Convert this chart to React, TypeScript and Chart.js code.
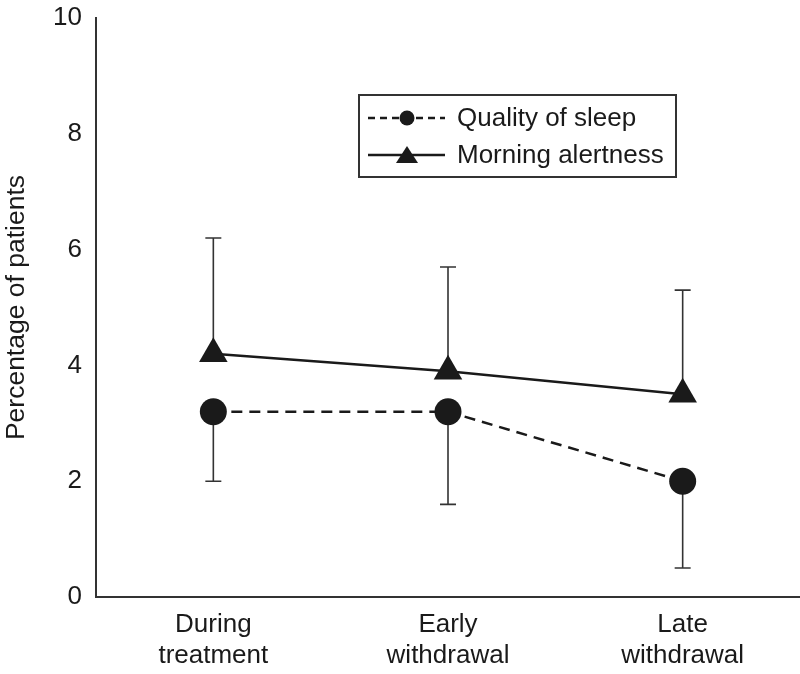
import React, { useEffect, useRef } from "react";
import { Chart, registerables } from "chart.js";

Chart.register(...registerables);

const categories: string[][] = [["During", "treatment"], ["Early", "withdrawal"], ["Late", "withdrawal"]];
const sleepValues = [3.2, 3.2, 2.0];
const sleepLower = [2.0, 1.6, 0.5];
const alertValues = [4.2, 3.9, 3.5];
const alertUpper = [6.2, 5.7, 5.3];
const yTicks = [0, 2, 4, 6, 8, 10];
const seriesNames = ["Quality of sleep", "Morning alertness"];

const FONT = "'Liberation Sans', Arial, Helvetica, sans-serif";
const INK = "#1a1a1a";

const errorBarPlugin = {
  id: "errorBars",
  beforeDatasetsDraw(chart: any) {
    const { ctx, scales } = chart;
    const x = scales.x;
    const y = scales.y;
    ctx.save();
    ctx.strokeStyle = "#333";
    ctx.lineWidth = 1.6;
    const draw = (vals: number[], ends: number[]) => {
      vals.forEach((v, i) => {
        const px = x.getPixelForValue(i);
        const y0 = y.getPixelForValue(v);
        const y1 = y.getPixelForValue(ends[i]);
        ctx.beginPath();
        ctx.moveTo(px, y0);
        ctx.lineTo(px, y1);
        ctx.moveTo(px - 8, y1);
        ctx.lineTo(px + 8, y1);
        ctx.stroke();
      });
    };
    draw(sleepValues, sleepLower);
    draw(alertValues, alertUpper);
    ctx.restore();
  },
};

const legendPlugin = {
  id: "boxLegend",
  afterDraw(chart: any) {
    const { ctx } = chart;
    const left = 359, top = 95, w = 317, h = 82;
    ctx.save();
    ctx.strokeStyle = "#333";
    ctx.lineWidth = 2;
    ctx.strokeRect(left, top, w, h);
    const rows = [top + 23, top + 60];
    chart.data.datasets.forEach((ds: any, i: number) => {
      const yy = rows[i];
      ctx.strokeStyle = INK;
      ctx.lineWidth = 2.5;
      ctx.setLineDash(i === 0 ? [7, 5] : []);
      ctx.beginPath();
      ctx.moveTo(368, yy);
      ctx.lineTo(445, yy);
      ctx.stroke();
      ctx.setLineDash([]);
      ctx.fillStyle = INK;
      ctx.beginPath();
      if (i === 0) {
        ctx.arc(407, yy, 7.5, 0, Math.PI * 2);
      } else {
        ctx.moveTo(407, yy - 9);
        ctx.lineTo(418, yy + 8);
        ctx.lineTo(396, yy + 8);
        ctx.closePath();
      }
      ctx.fill();
      ctx.font = `26px ${FONT}`;
      ctx.textBaseline = "middle";
      ctx.textAlign = "left";
      ctx.fillText(ds.label, 457, yy + 1);
    });
    ctx.restore();
  },
};

export default function App() {
  const ref = useRef<HTMLCanvasElement | null>(null);
  useEffect(() => {
    document.body.style.margin = "0";
    document.body.style.overflow = "hidden";
    if (!ref.current) return;
    const chart = new Chart(ref.current, {
      type: "line",
      data: {
        labels: categories as any,
        datasets: [
          {
            label: seriesNames[0],
            data: sleepValues,
            borderColor: INK,
            backgroundColor: INK,
            borderWidth: 2.5,
            borderDash: [11, 7],
            pointStyle: "circle",
            pointRadius: 13.5,
            pointBackgroundColor: INK,
            pointBorderColor: INK,
            pointBorderWidth: 0,
            tension: 0,
          },
          {
            label: seriesNames[1],
            data: alertValues,
            borderColor: INK,
            backgroundColor: INK,
            borderWidth: 2.5,
            pointStyle: "triangle",
            pointRadius: 16.5,
            pointBackgroundColor: INK,
            pointBorderColor: INK,
            pointBorderWidth: 0,
            tension: 0,
          },
        ],
      },
      options: {
        animation: false,
        responsive: false,
        devicePixelRatio: 1,
        layout: { autoPadding: false, padding: { top: 18, right: 0, left: 0, bottom: 0 } },
        plugins: { legend: { display: false }, tooltip: { enabled: false } },
        scales: {
          x: {
            offset: true,
            grid: { display: false, drawTicks: false },
            border: { display: true, color: "#333", width: 2 },
            ticks: { color: INK, font: { family: FONT, size: 26 }, padding: 12, maxRotation: 0, autoSkip: false },
            afterFit: (s: any) => { s.height = 77; s.paddingLeft = 0; s.paddingRight = 0; },
          },
          y: {
            min: 0,
            max: 10,
            grid: { display: false, drawTicks: false },
            border: { display: true, color: "#333", width: 2 },
            afterBuildTicks: (s: any) => { s.ticks = yTicks.map((v) => ({ value: v })); },
            ticks: { color: INK, font: { family: FONT, size: 26 }, padding: 14 },
            title: { display: true, text: "Percentage of patients", color: INK, font: { family: FONT, size: 26.5 }, padding: { top: 1, bottom: 0 } },
            afterFit: (s: any) => { s.width = 96; s.paddingTop = 0; s.paddingBottom = 0; s.paddingRight = 0; },
          },
        },
      },
      plugins: [errorBarPlugin, legendPlugin],
    });
    return () => chart.destroy();
  }, []);
  return (
    <div style={{ position: "absolute", left: 0, top: 0, width: 800, height: 674, background: "#fff", overflow: "hidden" }}>
      <canvas ref={ref} width={800} height={674} style={{ display: "block", width: 800, height: 674 }} />
    </div>
  );
}
